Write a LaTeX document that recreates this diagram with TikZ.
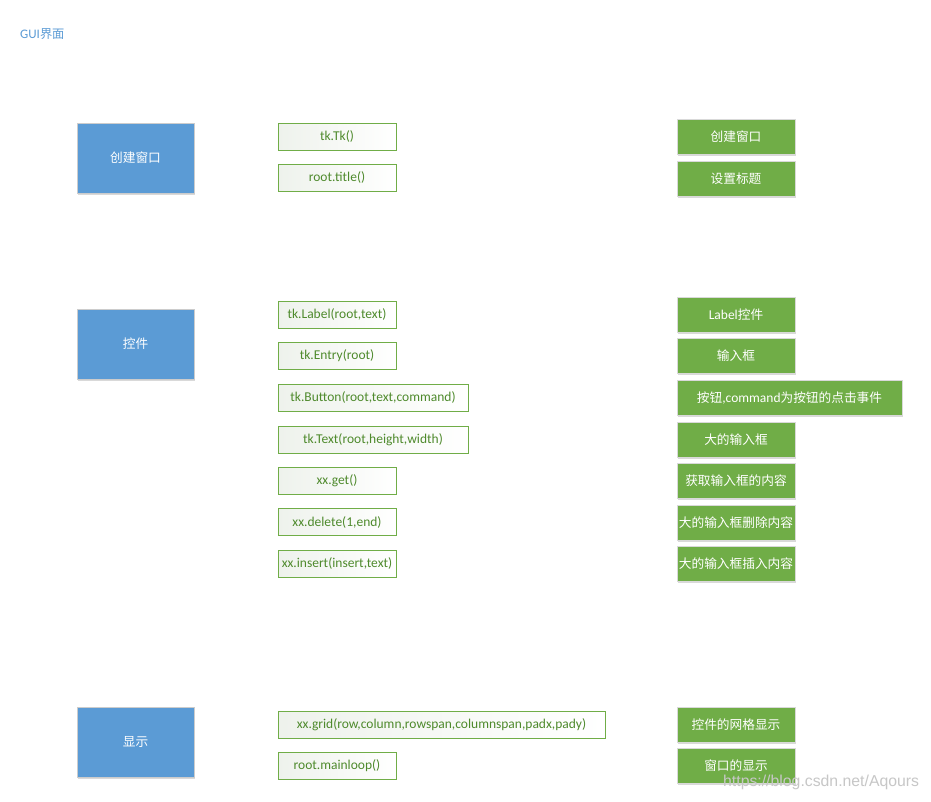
\documentclass[tikz,border=0pt]{standalone}
\usepackage{fontspec}
\setmainfont{Carlito}
\newfontfamily\cjk[Scale=0.94]{Noto Sans CJK SC}
\newfontfamily\wmfont{Liberation Sans}
\usetikzlibrary{shadows}
\definecolor{blueA}{HTML}{5B9BD5}
\definecolor{greenA}{HTML}{70AD47}
\definecolor{gtext}{HTML}{4E8A2C}
\definecolor{shadeA}{RGB}{238,242,236}
\tikzset{
  bluebox/.style={draw=black!20, fill=blueA, text=white, minimum width=117pt, minimum height=70pt, inner sep=0pt,
    drop shadow={shadow xshift=1pt, shadow yshift=-2pt, opacity=0.15, fill=black}},
  outbox/.style={draw=greenA, line width=0.8pt, left color=shadeA, right color=white, text=gtext,
    minimum height=27pt, inner sep=0pt},
  greenbox/.style={draw=black!15, fill=greenA, text=white, minimum height=35pt, inner sep=0pt,
    drop shadow={shadow xshift=1pt, shadow yshift=-2pt, opacity=0.15, fill=black}},
}
\begin{document}
\begin{tikzpicture}[x=1pt, y=-1pt, font=\fontsize{13.5}{15}\selectfont]
\useasboundingbox (0,0) rectangle (931,801);
\fill[white] (0,0) rectangle (931,801);
\node[anchor=west, text=blueA, inner sep=0pt, font=\fontsize{13}{15}\selectfont] (title) at (20,34) {GUI{\cjk 界面}};

% blue boxes
\node[bluebox] (b1) at (135.5,158) {\cjk 创建窗口};
\node[bluebox] (b2) at (135.5,344) {\cjk 控件};
\node[bluebox] (b3) at (135.5,742) {\cjk 显示};

% outline boxes
\node[outbox, minimum width=118pt] (o1) at (337,136.5) {tk.Tk()};
\node[outbox, minimum width=118pt] (o2) at (337,177.5) {root.title()};
\node[outbox, minimum width=118pt] (o3) at (337,314.5) {tk.Label(root,text)};
\node[outbox, minimum width=118pt] (o4) at (337,355.5) {tk.Entry(root)};
\node[outbox, minimum width=190pt] (o5) at (373,397.5) {tk.Button(root,text,command)};
\node[outbox, minimum width=190pt] (o6) at (373,439.5) {tk.Text(root,height,width)};
\node[outbox, minimum width=118pt] (o7) at (337,480.5) {xx.get()};
\node[outbox, minimum width=118pt] (o8) at (337,522) {xx.delete(1,end)};
\node[outbox, minimum width=118pt] (o9) at (337,563.5) {xx.insert(insert,text)};
\node[outbox, minimum width=327pt] (o10) at (441.5,724.5) {xx.grid(row,column,rowspan,columnspan,padx,pady)};
\node[outbox, minimum width=118pt] (o11) at (337,766) {root.mainloop()};

% green boxes
\node[greenbox, minimum width=118pt] (g1) at (736,136.5) {\cjk 创建窗口};
\node[greenbox, minimum width=118pt] (g2) at (736,178.5) {\cjk 设置标题};
\node[greenbox, minimum width=118pt] (g3) at (736,314.5) {Label{\cjk 控件}};
\node[greenbox, minimum width=118pt] (g4) at (736,355.5) {\cjk 输入框};
\node[greenbox, minimum width=225pt] (g5) at (789.5,397.5) {{\cjk 按钮},command{\cjk 为按钮的点击事件}};
\node[greenbox, minimum width=118pt] (g6) at (736,439.5) {\cjk 大的输入框};
\node[greenbox, minimum width=118pt] (g7) at (736,480.5) {\cjk 获取输入框的内容};
\node[greenbox, minimum width=118pt] (g8) at (736,522.5) {\cjk 大的输入框删除内容};
\node[greenbox, minimum width=118pt] (g9) at (736,563.5) {\cjk 大的输入框插入内容};
\node[greenbox, minimum width=118pt] (g10) at (736,724.5) {\cjk 控件的网格显示};
\node[greenbox, minimum width=118pt] (g11) at (736,765.5) {\cjk 窗口的显示};

% watermark
\node[anchor=west, inner sep=0pt, text=black!22, font=\wmfont\fontsize{15.8}{17}\selectfont] (wm) at (723,782) {https://blog.csdn.net/Aqours};
\end{tikzpicture}
\end{document}
